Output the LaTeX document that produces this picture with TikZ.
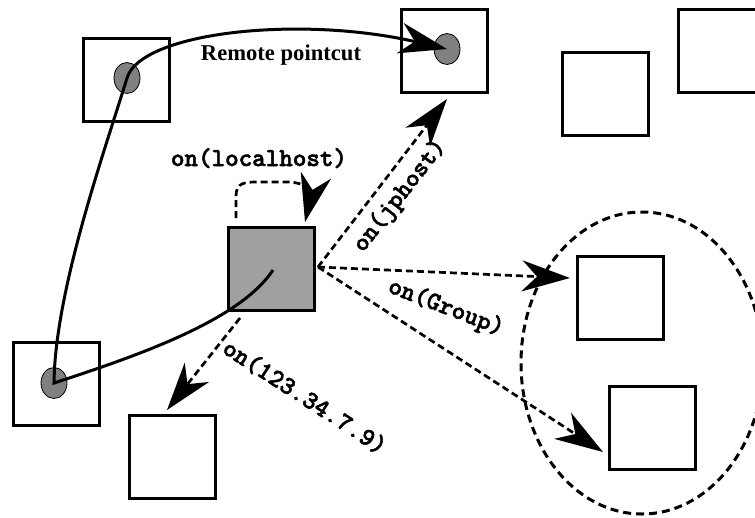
\documentclass[tikz,border=0pt]{standalone}
\usepackage{fontspec}
\setmainfont{Liberation Serif}
\newfontfamily\courfont{lmmonolt10-bold.otf}[FakeBold=2]
\usetikzlibrary{arrows.meta,shapes.geometric}
\definecolor{boxgray}{RGB}{160,160,160}
\definecolor{dotgray}{RGB}{128,128,128}
\begin{document}
\begin{tikzpicture}[x=1pt,y=-1pt,
  box/.style={draw,line width=3pt,minimum width=86pt,minimum height=83pt,inner sep=0pt},
  dot/.style={draw,ellipse,line width=0.8pt,fill=dotgray,minimum width=26pt,minimum height=31pt,inner sep=0pt},
  bigtip/.style={-{Stealth[length=48pt,width=31pt,inset=15pt]}},
  dsh/.style={line width=2.7pt,dash pattern=on 7pt off 4pt,bigtip},
  lbl/.style={font=\courfont\fontsize{25.8}{28}\selectfont,inner sep=0pt}]
\useasboundingbox (0,0) rectangle (755,517);
\clip (0,0) rectangle (755,517);
% group ellipse
\node[draw,ellipse,line width=3pt,dash pattern=on 8pt off 5pt,minimum width=242pt,minimum height=302pt,inner sep=0pt] (grp) at (642,363) {};
% boxes
\node[box] (A) at (126,79.5) {};
\node[box] (B) at (444.5,50.5) {};
\node[box] (C) at (605.5,94) {};
\node[box] (D) at (721,50.5) {};
\node[box,fill=boxgray] (E) at (271.5,269) {};
\node[box] (F) at (56.5,384) {};
\node[box] (G) at (172.5,457) {};
\node[box] (H) at (620,297.5) {};
\node[box] (I) at (652.5,428) {};
% dots
\node[dot] (ad) at (127,78) {};
\node[dot] (bd) at (447,49) {};
\node[dot] (fd) at (54,383) {};
% coordinates
\coordinate (eIn) at (273,270);
\coordinate (eR) at (318,267);
\coordinate (eB) at (240,318);
\coordinate (lsA) at (236,218);
\coordinate (lsT) at (305,222);
\coordinate (jpT) at (447,99);
\coordinate (hT) at (570,278);
\coordinate (iT) at (603,452);
\coordinate (gT) at (167,410);
% remote pointcut curve
\draw[line width=3pt,bigtip] (eIn) .. controls (240,320) and (140,355) .. (fd.center)
  .. controls (55,290) and (105,150) .. (ad.center)
  .. controls (141,32) and (300,15) .. (bd.center);
% dashed arrows
\draw[dsh] (lsA) -- (236,196) .. controls (236,182) and (246,182) .. (258,182) -- (288,182) .. controls (305,182) and (312,192) .. (lsT);
\draw[dsh] (eR) -- (jpT);
\draw[dsh] (eR) -- (hT);
\draw[dsh] (eR) -- (iT);
\draw[dsh] (eB) -- (gT);
% labels
\node[font=\bfseries\fontsize{22.6}{26}\selectfont,inner sep=0pt,anchor=base] (rp) at (281,60) {Remote pointcut};
\node[lbl,anchor=base] (l1) at (259,166) {on(localhost)};
\node[lbl,rotate=52] (l2) at (400,196) {on(jphost)};
\node[lbl,rotate=-21] (l3) at (446,308) {on(Group)};
\node[lbl,rotate=-33] (l4) at (305,397) {on(123.34.7.9)};
\end{tikzpicture}
\end{document}
